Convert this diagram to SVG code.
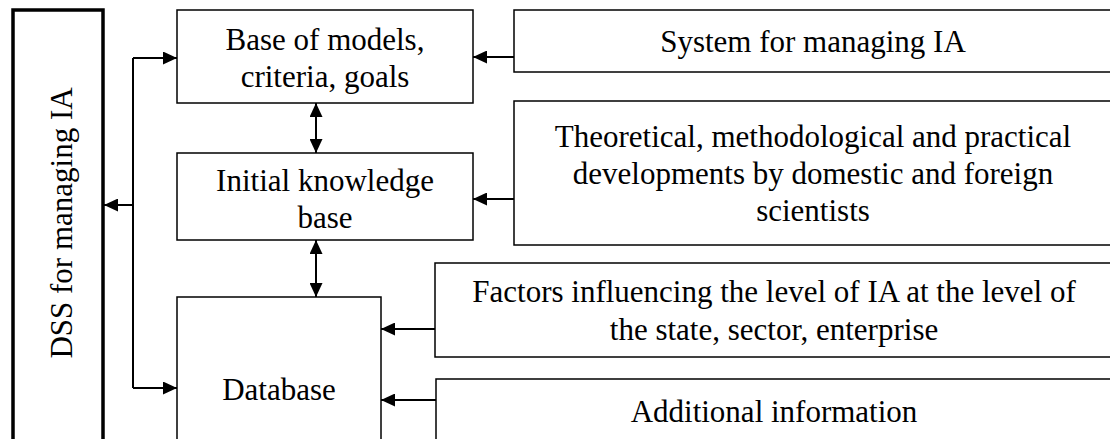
<svg xmlns="http://www.w3.org/2000/svg" width="1110" height="439" viewBox="0 0 1110 439">
<style>
.box{fill:#fff;stroke:#000;stroke-width:1.5}
.thick{fill:#fff;stroke:#000;stroke-width:3.5}
.t{font-family:'Times New Roman',Tinos,'Liberation Serif','DejaVu Serif',serif;font-size:31px;fill:#000;text-anchor:middle}
.c{fill:none;stroke:#000;stroke-width:2}
</style>
<defs>
<marker id="ah" markerUnits="userSpaceOnUse" markerWidth="15" markerHeight="13" refX="14" refY="6.5" orient="auto-start-reverse">
<path d="M0,0 L14,6.5 L0,13 z" fill="#000"/>
</marker>
</defs>
<rect width="1110" height="439" fill="#fff"/>
<g id="dss">
<rect class="thick" x="13" y="10" width="90" height="445"/>
<text class="t" transform="translate(72,223) rotate(-90)">DSS for managing IA</text>
</g>
<g id="base-models">
<rect class="box" x="177" y="10" width="296" height="93"/>
<text class="t" x="325" y="50">Base of models,</text>
<text class="t" x="325" y="87">criteria, goals</text>
</g>
<g id="initial-kb">
<rect class="box" x="177" y="153" width="296" height="87"/>
<text class="t" x="325" y="191">Initial knowledge</text>
<text class="t" x="325" y="228">base</text>
</g>
<g id="database">
<rect class="box" x="177" y="297" width="204" height="160"/>
<text class="t" x="279" y="400">Database</text>
</g>
<g id="system">
<rect class="box" x="514" y="10" width="610" height="62"/>
<text class="t" x="813" y="52">System for managing IA</text>
</g>
<g id="theoretical">
<rect class="box" x="514" y="101" width="610" height="144"/>
<text class="t" x="813" y="147">Theoretical, methodological and practical</text>
<text class="t" x="813" y="184">developments by domestic and foreign</text>
<text class="t" x="813" y="221">scientists</text>
</g>
<g id="factors">
<rect class="box" x="435" y="263" width="689" height="94"/>
<text class="t" x="774" y="302">Factors influencing the level of IA at the level of</text>
<text class="t" x="774" y="340">the state, sector, enterprise</text>
</g>
<g id="additional">
<rect class="box" x="436" y="379" width="688" height="80"/>
<text class="t" x="774" y="422">Additional information</text>
</g>
<g id="connectors">
<path class="c" d="M133,58 V388"/>
<path class="c" d="M133,58 H177" marker-end="url(#ah)"/>
<path class="c" d="M133,205 H104" marker-end="url(#ah)"/>
<path class="c" d="M133,388 H177" marker-end="url(#ah)"/>
<path class="c" d="M514,57 H473" marker-end="url(#ah)"/>
<path class="c" d="M514,199 H473" marker-end="url(#ah)"/>
<path class="c" d="M435,329 H381" marker-end="url(#ah)"/>
<path class="c" d="M436,400 H381" marker-end="url(#ah)"/>
<path class="c" d="M316,103 V153" marker-start="url(#ah)" marker-end="url(#ah)"/>
<path class="c" d="M316,240 V297" marker-start="url(#ah)" marker-end="url(#ah)"/>
</g>
</svg>
